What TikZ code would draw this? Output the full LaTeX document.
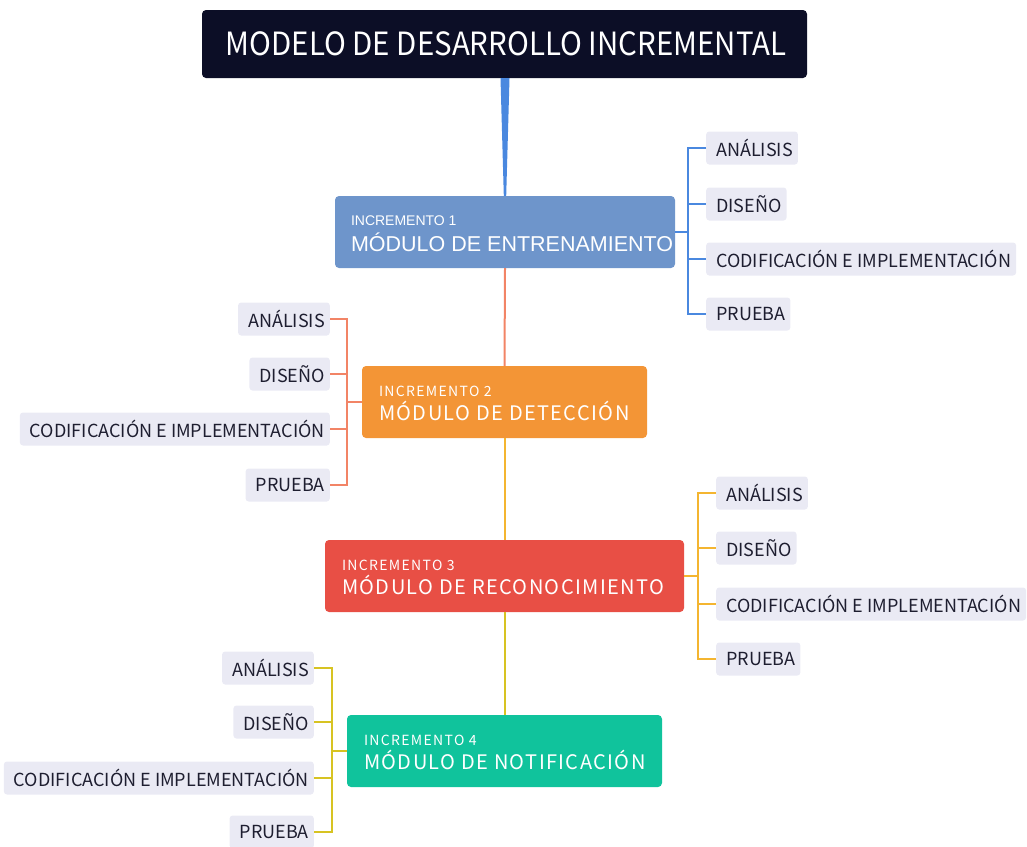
\documentclass[tikz,border=0pt]{standalone}
\usepackage{fontspec}
\newfontfamily\srcsans{Noto Sans CJK SC}
\newfontfamily\titlefont[FakeStretch=0.92]{Noto Sans CJK SC}
\newfontfamily\boxfont[LetterSpace=7]{Noto Sans CJK SC}
\newfontfamily\boxsmallfont[LetterSpace=9.5]{Noto Sans CJK SC}
\newfontfamily\arialike{Liberation Sans}
\definecolor{titlebg}{HTML}{0C0E26}
\definecolor{blueln}{HTML}{4A88DF}
\definecolor{incA}{HTML}{6E95CB}
\definecolor{salmon}{HTML}{F28466}
\definecolor{incB}{HTML}{F39536}
\definecolor{amber}{HTML}{F4B530}
\definecolor{incC}{HTML}{E84F45}
\definecolor{olive}{HTML}{D7C322}
\definecolor{incD}{HTML}{10C39C}
\definecolor{leafbg}{HTML}{EAEAF4}
\definecolor{leaftx}{HTML}{1E1E30}
\usetikzlibrary{calc}
\tikzset{
  titlebox/.style={fill=titlebg, rounded corners=4pt, text=white, minimum width=605pt, minimum height=68pt, inner sep=0pt, font=\titlefont\fontsize{32}{34}\selectfont},
  incbox/.style={rounded corners=4pt, minimum height=72pt, inner sep=0pt},
  inctext/.style={text=white, anchor=base west, inner sep=0pt},
  leaf/.style={fill=leafbg, rounded corners=3pt, text=leaftx, minimum height=33pt, inner xsep=5pt, inner ysep=0pt, execute at begin node={\hspace*{5pt}}, font=\srcsans\fontsize{18}{20}\selectfont},
  branch/.style={line width=2pt},
  trunk/.style={line width=2pt},
}
\newcommand{\smalltx}{\boxsmallfont\fontsize{14}{16}\selectfont}
\newcommand{\bigtx}{\boxfont\fontsize{20}{24}\selectfont}
\begin{document}
\begin{tikzpicture}[x=1pt,y=-1pt]
\useasboundingbox (0,0) rectangle (1027,846);
% title
\node[titlebox] (title) at (504.5,44) {\hspace*{3pt}MODELO DE DESARROLLO INCREMENTAL};
% increments
\node[incbox, fill=incA, minimum width=340pt] (i1) at (505,232) {};
\node[inctext, font=\arialike\fontsize{14}{16}\selectfont] (i1s) at ($(i1.north west)+(16,30)$) {INCREMENTO 1};
\node[inctext, font=\arialike\fontsize{21.5}{24}\selectfont] (i1b) at ($(i1.north west)+(16,56)$) {MÓDULO DE ENTRENAMIENTO};
\node[incbox, fill=incB, minimum width=285pt] (i2) at (504.5,402) {};
\node[inctext, font=\smalltx] (i2s) at ($(i2.north west)+(17,31)$) {INCREMENTO 2};
\node[inctext, font=\bigtx] (i2b) at ($(i2.north west)+(17,55)$) {MÓDULO DE DETECCIÓN};
\node[incbox, fill=incC, minimum width=359pt] (i3) at (504.5,576) {};
\node[inctext, font=\smalltx] (i3s) at ($(i3.north west)+(17,31)$) {INCREMENTO 3};
\node[inctext, font=\bigtx] (i3b) at ($(i3.north west)+(17,55)$) {MÓDULO DE RECONOCIMIENTO};
\node[incbox, fill=incD, minimum width=315pt] (i4) at (504.5,751) {};
\node[inctext, font=\smalltx] (i4s) at ($(i4.north west)+(17,31)$) {INCREMENTO 4};
\node[inctext, font=\bigtx] (i4b) at ($(i4.north west)+(17,55)$) {MÓDULO DE NOTIFICACIÓN};
% trunk connectors
\fill[blueln] ([xshift=-4pt]title.south) -- ([xshift=5pt]title.south) -- ([xshift=1.2pt]i1.north) -- ([xshift=-1.2pt]i1.north) -- cycle;
\draw[trunk, salmon] (i1.south) -- (i2.north);
\draw[trunk, amber] (i2.south) -- (i3.north);
\draw[trunk, olive] (i3.south) -- (i4.north);
% leaves increment 1 (right)
\node[leaf, anchor=west] (a1) at (706,148) {ANÁLISIS};
\node[leaf, anchor=west] (b1) at (706,204) {DISEÑO};
\node[leaf, anchor=west] (c1) at (706,259) {CODIFICACIÓN E IMPLEMENTACIÓN};
\node[leaf, anchor=west] (d1) at (706,314) {PRUEBA};
\coordinate (k1) at ($(i1.east)+(13,0)$);
\draw[branch, blueln] (i1.east) -- (k1);
\draw[branch, blueln] (a1.west) -- (a1.west -| k1) -- (d1.west -| k1) -- (d1.west);
\draw[branch, blueln] (b1.west -| k1) -- (b1.west);
\draw[branch, blueln] (c1.west -| k1) -- (c1.west);
% leaves increment 2 (left)
\node[leaf, anchor=east] (a2) at (330,319) {ANÁLISIS};
\node[leaf, anchor=east] (b2) at (330,374) {DISEÑO};
\node[leaf, anchor=east] (c2) at (330,429) {CODIFICACIÓN E IMPLEMENTACIÓN};
\node[leaf, anchor=east] (d2) at (330,485) {PRUEBA};
\coordinate (k2) at ($(i2.west)+(-15,0)$);
\draw[branch, salmon] (i2.west) -- (k2);
\draw[branch, salmon] (a2.east) -- (a2.east -| k2) -- (d2.east -| k2) -- (d2.east);
\draw[branch, salmon] (b2.east -| k2) -- (b2.east);
\draw[branch, salmon] (c2.east -| k2) -- (c2.east);
% leaves increment 3 (right)
\node[leaf, anchor=west] (a3) at (716,493) {ANÁLISIS};
\node[leaf, anchor=west] (b3) at (716,548) {DISEÑO};
\node[leaf, anchor=west] (c3) at (716,604) {CODIFICACIÓN E IMPLEMENTACIÓN};
\node[leaf, anchor=west] (d3) at (716,659) {PRUEBA};
\coordinate (k3) at ($(i3.east)+(14,0)$);
\draw[branch, amber] (i3.east) -- (k3);
\draw[branch, amber] (a3.west) -- (a3.west -| k3) -- (d3.west -| k3) -- (d3.west);
\draw[branch, amber] (b3.west -| k3) -- (b3.west);
\draw[branch, amber] (c3.west -| k3) -- (c3.west);
% leaves increment 4 (left)
\node[leaf, anchor=east] (a4) at (314,668) {ANÁLISIS};
\node[leaf, anchor=east] (b4) at (314,722) {DISEÑO};
\node[leaf, anchor=east] (c4) at (314,778) {CODIFICACIÓN E IMPLEMENTACIÓN};
\node[leaf, anchor=east] (d4) at (314,832) {PRUEBA};
\coordinate (k4) at ($(i4.west)+(-15,0)$);
\draw[branch, olive] (i4.west) -- (k4);
\draw[branch, olive] (a4.east) -- (a4.east -| k4) -- (d4.east -| k4) -- (d4.east);
\draw[branch, olive] (b4.east -| k4) -- (b4.east);
\draw[branch, olive] (c4.east -| k4) -- (c4.east);
\end{tikzpicture}
\end{document}
